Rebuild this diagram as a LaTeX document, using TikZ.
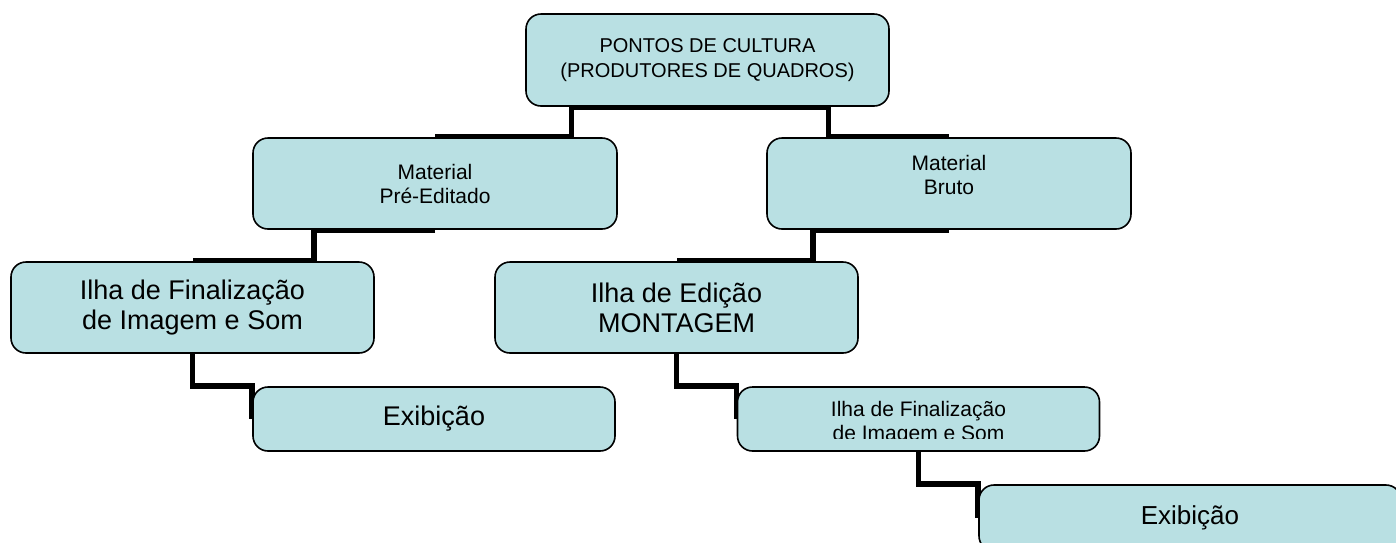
\documentclass[tikz,border=0pt]{standalone}
\usepackage{fontspec}
\setmainfont{Liberation Sans}
\usetikzlibrary{backgrounds,calc}
\definecolor{boxfill}{RGB}{185,224,227}

\begin{document}
\begin{tikzpicture} [
                x=1pt, y=-1pt,
                box/.style={draw,rounded corners=15pt,fill=boxfill,line width=1.6pt,align=center,inner sep=0pt},
                head/.style={minimum width=363pt,minimum height=92pt,font=\fontsize{20}{25}\selectfont},
                small/.style={minimum width=364pt,minimum height=91pt,font=\fontsize{21}{24}\selectfont},
                large/.style={minimum width=363pt,minimum height=91pt,font=\fontsize{27}{30}\selectfont},
                flat/.style={minimum width=362pt,minimum height=64pt,font=\fontsize{27}{30}\selectfont},
                small text/.style={align=center,inner sep=0pt,font=\fontsize{21}{24}\selectfont},
                link/.style={draw,line width=5.5pt,-},
            ]
            \useasboundingbox (0,0) rectangle (1396,542);
            % First we draw the boxes
            \foreach \pos/\name/\kind/\txt in {
                    {(707.5,60)/ponto/head/{PONTOS DE CULTURA\\(PRODUTORES DE QUADROS)}},
                    {(435,183.5)/pre/small/{Material\\Pré-Editado}},
                    {(192.5,307.5)/finA/large/{Ilha de Finalização\\de Imagem e Som}},
                    {(676.5,307.5)/edicao/large/{Ilha de Edição\\MONTAGEM}},
                    {(434,419)/exibA/flat/{Exibição}}}
                \node[box,\kind] (\name) at \pos {\txt};
            \node[box,small,label={[small text,yshift=9pt]center:{Material\\Bruto}}] (bruto) at (949,183.5) {};
            \node[box,flat] (finB) at (918.5,419) {};
            \begin{scope}
                \clip (finB.north west) rectangle ([yshift=13pt]finB.south east);
                \node[small text,anchor=north] (finBtext) at ([yshift=-15pt]finB.north) {Ilha de Finalização\\de Imagem e Som};
            \end{scope}
            \node[box,flat,minimum width=422pt,minimum height=66pt,font=\fontsize{26}{29}\selectfont] (exibB) at (1190,518) {Exibição};
            % Connect boxes behind them
            \begin{scope}[on background layer]
                \foreach \source/\dest in {ponto/pre,ponto/bruto,pre/finA,bruto/edicao}
                    \path[link] (\source.south) -| ($(\source.south)!0.5!(\dest.north)$) |- (\dest.north);
                \foreach \source/\dest in {finA/exibA,edicao/finB,finB/exibB}
                    \path[link] (\source.south) |- (\dest.north west) -- (\dest.west);
            \end{scope}
        \end{tikzpicture}
\end{document}
